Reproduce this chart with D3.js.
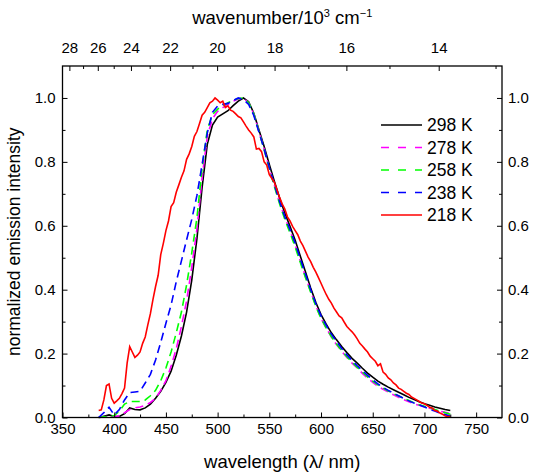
<!DOCTYPE html>
<html>
<head>
<meta charset="utf-8">
<script src="https://cdn.jsdelivr.net/npm/d3@7"></script>
<style>
body { margin: 0; background: #fff; }
text { font-family: "Liberation Sans", Arial, sans-serif; fill: #000; }
</style>
</head>
<body>
<div id="chart"></div>
<script>
// wavelength grid (nm) shared by the smooth spectra
var wl = [385,390,395,400,405,410,415,420,425,430,435,440,445,450,455,460,465,470,475,480,
          485,490,495,500,505,510,515,520,525,530,535,540,545,550,555,560,565,570,575,580,
          585,590,595,600,605,610,615,620,625,630,635,640,645,650,655,660,665,670,675,680,
          685,690,695,700,705,710,715,720,725];

var k298 = [0.000,0.004,0.008,0.003,0.003,0.012,0.030,0.025,0.024,0.030,0.042,0.060,0.082,0.110,0.145,0.195,0.255,0.330,0.430,0.560,
            0.720,0.855,0.915,0.940,0.950,0.960,0.976,0.990,1.000,0.988,0.952,0.900,0.848,0.792,0.738,0.686,0.640,0.598,0.555,0.505,
            0.455,0.405,0.360,0.322,0.292,0.265,0.243,0.222,0.203,0.185,0.170,0.154,0.139,0.126,0.114,0.104,0.095,0.087,0.079,0.071,
            0.063,0.056,0.049,0.043,0.038,0.033,0.029,0.025,0.022];

var k278 = [0.000,0.002,0.004,0.002,0.005,0.015,0.025,0.030,0.033,0.038,0.047,0.060,0.085,0.115,0.160,0.215,0.285,0.365,0.470,0.590,
            0.750,0.880,0.935,0.958,0.970,0.980,0.990,0.997,1.000,0.985,0.950,0.895,0.840,0.780,0.725,0.672,0.625,0.585,0.540,0.490,
            0.440,0.395,0.350,0.310,0.280,0.252,0.228,0.207,0.188,0.170,0.155,0.138,0.123,0.110,0.098,0.088,0.080,0.071,0.063,0.056,
            0.049,0.043,0.038,0.033,0.029,0.025,0.020,0.016,0.012];

var k258 = [0.000,0.002,0.003,0.006,0.020,0.042,0.050,0.050,0.050,0.055,0.068,0.085,0.115,0.155,0.205,0.265,0.330,0.415,0.515,0.625,
            0.780,0.900,0.948,0.965,0.975,0.985,0.992,0.998,1.000,0.985,0.950,0.895,0.838,0.778,0.722,0.668,0.620,0.578,0.533,0.485,
            0.437,0.392,0.348,0.310,0.280,0.253,0.230,0.209,0.190,0.173,0.157,0.142,0.127,0.114,0.102,0.092,0.083,0.075,0.067,0.060,
            0.053,0.046,0.040,0.035,0.030,0.025,0.020,0.015,0.010];

var k238 = [0.000,0.015,0.032,0.008,0.025,0.055,0.078,0.080,0.082,0.108,0.135,0.180,0.235,0.295,0.352,0.425,0.490,0.556,0.620,0.695,
            0.792,0.890,0.955,0.975,0.980,0.983,0.992,1.000,0.995,0.980,0.945,0.893,0.840,0.782,0.728,0.675,0.628,0.588,0.545,0.496,
            0.448,0.400,0.356,0.318,0.288,0.261,0.238,0.216,0.196,0.178,0.162,0.147,0.132,0.118,0.105,0.094,0.085,0.076,0.068,0.060,
            0.052,0.045,0.039,0.033,0.026,0.020,0.014,0.009,0.005];

// 218 K spectrum is noisier, read on a finer grid
var wlRed = [385,387.5,390,392.5,395,397.5,400,402.5,405,407.5,410,412.5,415,417.5,420,422.5,425,427.5,430,432.5,
             435,437.5,440,442.5,445,447.5,450,452.5,455,457.5,460,462.5,465,467.5,470,472.5,475,477.5,480,482.5,
             485,487.5,490,492.5,495,497.5,500,502.5,505,507.5,510,512.5,515,517.5,520,522.5,525,527.5,530,532.5,
             535,537.5,540,542.5,545,547.5,550,552.5,555,557.5,560,562.5,565,567.5,570,572.5,575,577.5,580,582.5,
             585,587.5,590,592.5,595,597.5,600,602.5,605,607.5,610,612.5,615,617.5,620,622.5,625,627.5,630,632.5,
             635,637.5,640,642.5,645,647.5,650,652.5,655,657.5,660,662.5,665,667.5,670,672.5,675,677.5,680,682.5,
             685,687.5,690,692.5,695,697.5,700,702.5,705,707.5,710,712.5,715,717.5,720,722.5,725];

var k218 = [0.022,0.024,0.055,0.100,0.105,0.060,0.045,0.052,0.060,0.075,0.092,0.170,0.222,0.205,0.188,0.195,0.205,0.232,0.252,0.290,
            0.325,0.370,0.410,0.445,0.510,0.545,0.585,0.615,0.660,0.672,0.705,0.728,0.752,0.772,0.808,0.825,0.848,0.880,0.895,0.920,
            0.946,0.955,0.970,0.985,0.990,1.000,0.993,0.985,0.990,0.970,0.975,0.962,0.958,0.950,0.942,0.938,0.925,0.912,0.900,0.890,
            0.878,0.840,0.842,0.832,0.800,0.790,0.760,0.748,0.735,0.712,0.688,0.668,0.652,0.628,0.615,0.598,0.585,0.572,0.552,0.538,
            0.520,0.502,0.488,0.470,0.455,0.438,0.420,0.402,0.385,0.370,0.358,0.342,0.330,0.318,0.312,0.298,0.285,0.276,0.268,0.258,
            0.246,0.232,0.224,0.214,0.205,0.192,0.184,0.176,0.162,0.168,0.142,0.135,0.124,0.118,0.108,0.102,0.092,0.088,0.082,0.076,
            0.072,0.064,0.060,0.055,0.050,0.045,0.043,0.038,0.032,0.030,0.022,0.020,0.014,0.010,0.005,0.002,0.004];

var seriesNames = ["298 K", "278 K", "258 K", "238 K", "218 K"];
var xMajor = [350,400,450,500,550,600,650,700,750];
var xMinor = [375,425,475,525,575,625,675,725];
var yMajor = [0,0.2,0.4,0.6,0.8,1.0];
var yMinor = [0.1,0.3,0.5,0.7,0.9];
var kMajor = [28,26,24,22,20,18,16,14];   // wavenumber / 10^3 cm^-1
var kMinor = [27,25,23,21,19,17,15,13];

var width = 534, height = 475;
var L = 62.5, R = 502, T = 66, B = 417.5;
var TICKFONT = 15, TITLEFONT = 18.5;

var svg = d3.select("#chart").append("svg")
    .attr("width", width)
    .attr("height", height);

var x = d3.scaleLinear().domain([350, 775]).range([L, R]);
var y = d3.scaleLinear().domain([0, 1.1]).range([B, T]);

var styles = [
    {color: "#000000", dash: null, key: null},
    {color: "#ff00ff", dash: "8,5", key: "8,9"},
    {color: "#00ff00", dash: "8,5", key: "8,9"},
    {color: "#0000ff", dash: "8,5", key: "8,9"},
    {color: "#ff0000", dash: null, key: null}
];

var line = d3.line()
    .x(function(d){ return x(d[0]); })
    .y(function(d){ return y(d[1]); });

var series = [
    d3.zip(wl, k298),
    d3.zip(wl, k278),
    d3.zip(wl, k258),
    d3.zip(wl, k238),
    d3.zip(wlRed, k218)
];

svg.selectAll("path.spec")
    .data(series)
    .enter()
    .append("path")
    .attr("class", "spec")
    .attr("d", line)
    .attr("fill", "none")
    .attr("stroke", function(d, i){ return styles[i].color; })
    .attr("stroke-width", 1.6)
    .attr("stroke-dasharray", function(d, i){ return styles[i].dash; });

// axes, ticks pointing inward
function noDomain(g){ g.select(".domain").remove(); g.selectAll("line").attr("stroke", "#000"); }

svg.append("g").attr("transform", "translate(0," + B + ")")
    .call(d3.axisBottom(x).tickValues(xMajor).tickSize(-5).tickPadding(6).tickFormat(d3.format("d")))
    .call(noDomain);
svg.append("g").attr("transform", "translate(0," + B + ")")
    .call(d3.axisBottom(x).tickValues(xMinor).tickSize(-3).tickFormat(""))
    .call(noDomain);

svg.append("g").attr("transform", "translate(" + L + ",0)")
    .call(d3.axisLeft(y).tickValues(yMajor).tickSize(-5).tickPadding(7).tickFormat(d3.format(".1f")))
    .call(noDomain);
svg.append("g").attr("transform", "translate(" + L + ",0)")
    .call(d3.axisLeft(y).tickValues(yMinor).tickSize(-3).tickFormat(""))
    .call(noDomain);

svg.append("g").attr("transform", "translate(" + R + ",0)")
    .call(d3.axisRight(y).tickValues(yMajor).tickSize(-5).tickPadding(6).tickFormat(d3.format(".1f")))
    .call(noDomain);
svg.append("g").attr("transform", "translate(" + R + ",0)")
    .call(d3.axisRight(y).tickValues(yMinor).tickSize(-3).tickFormat(""))
    .call(noDomain);

svg.selectAll(".tick text").attr("font-size", TICKFONT).attr("font-family", '"Liberation Sans", Arial, sans-serif');

// top wavenumber axis: positions through x(1e4 / k)
var topAxis = svg.append("g");
topAxis.selectAll("line.kmaj").data(kMajor).enter().append("line")
    .attr("class", "kmaj")
    .attr("x1", function(k){ return x(1e4 / k); })
    .attr("x2", function(k){ return x(1e4 / k); })
    .attr("y1", T).attr("y2", T + 5)
    .attr("stroke", "#000");
topAxis.selectAll("line.kmin").data(kMinor).enter().append("line")
    .attr("class", "kmin")
    .attr("x1", function(k){ return x(1e4 / k); })
    .attr("x2", function(k){ return x(1e4 / k); })
    .attr("y1", T).attr("y2", T + 3)
    .attr("stroke", "#000");
topAxis.selectAll("text").data(kMajor).enter().append("text")
    .attr("x", function(k){ return x(1e4 / k); })
    .attr("y", T - 13)
    .attr("text-anchor", "middle")
    .attr("font-size", TICKFONT)
    .text(function(k){ return k; });

// frame
svg.append("rect")
    .attr("x", L).attr("y", T)
    .attr("width", R - L).attr("height", B - T)
    .attr("fill", "none")
    .attr("stroke", "#000")
    .attr("stroke-width", 1.3);

// titles
svg.append("text")
    .attr("x", (L + R) / 2).attr("y", 468)
    .attr("text-anchor", "middle")
    .attr("font-size", TITLEFONT)
    .text("wavelength (λ/ nm)");

var tt = svg.append("text")
    .attr("x", (L + R) / 2).attr("y", 24)
    .attr("text-anchor", "middle")
    .attr("font-size", TITLEFONT);
tt.append("tspan").text("wavenumber/10");
tt.append("tspan").attr("font-size", 11).attr("dy", -7).text("3");
tt.append("tspan").attr("dy", 7).text(" cm");
tt.append("tspan").attr("font-size", 11).attr("dy", -7).text("\u22121");

svg.append("text")
    .attr("transform", "translate(20," + ((T + B) / 2) + ") rotate(-90)")
    .attr("text-anchor", "middle")
    .attr("font-size", TITLEFONT - 1)
    .text("normalized emission intensity");

// legend
var legend = svg.append("g").selectAll("g")
    .data(seriesNames)
    .enter()
    .append("g")
    .attr("transform", function(d, i){ return "translate(381," + (125 + i * 22.5) + ")"; });
legend.append("line")
    .attr("x1", 0).attr("x2", 41)
    .attr("stroke", function(d, i){ return styles[i].color; })
    .attr("stroke-width", 1.6)
    .attr("stroke-dasharray", function(d, i){ return styles[i].key; });
legend.append("text")
    .attr("x", 46).attr("y", 6)
    .attr("font-size", 17.5)
    .text(function(d){ return d; });
</script>
</body>
</html>
